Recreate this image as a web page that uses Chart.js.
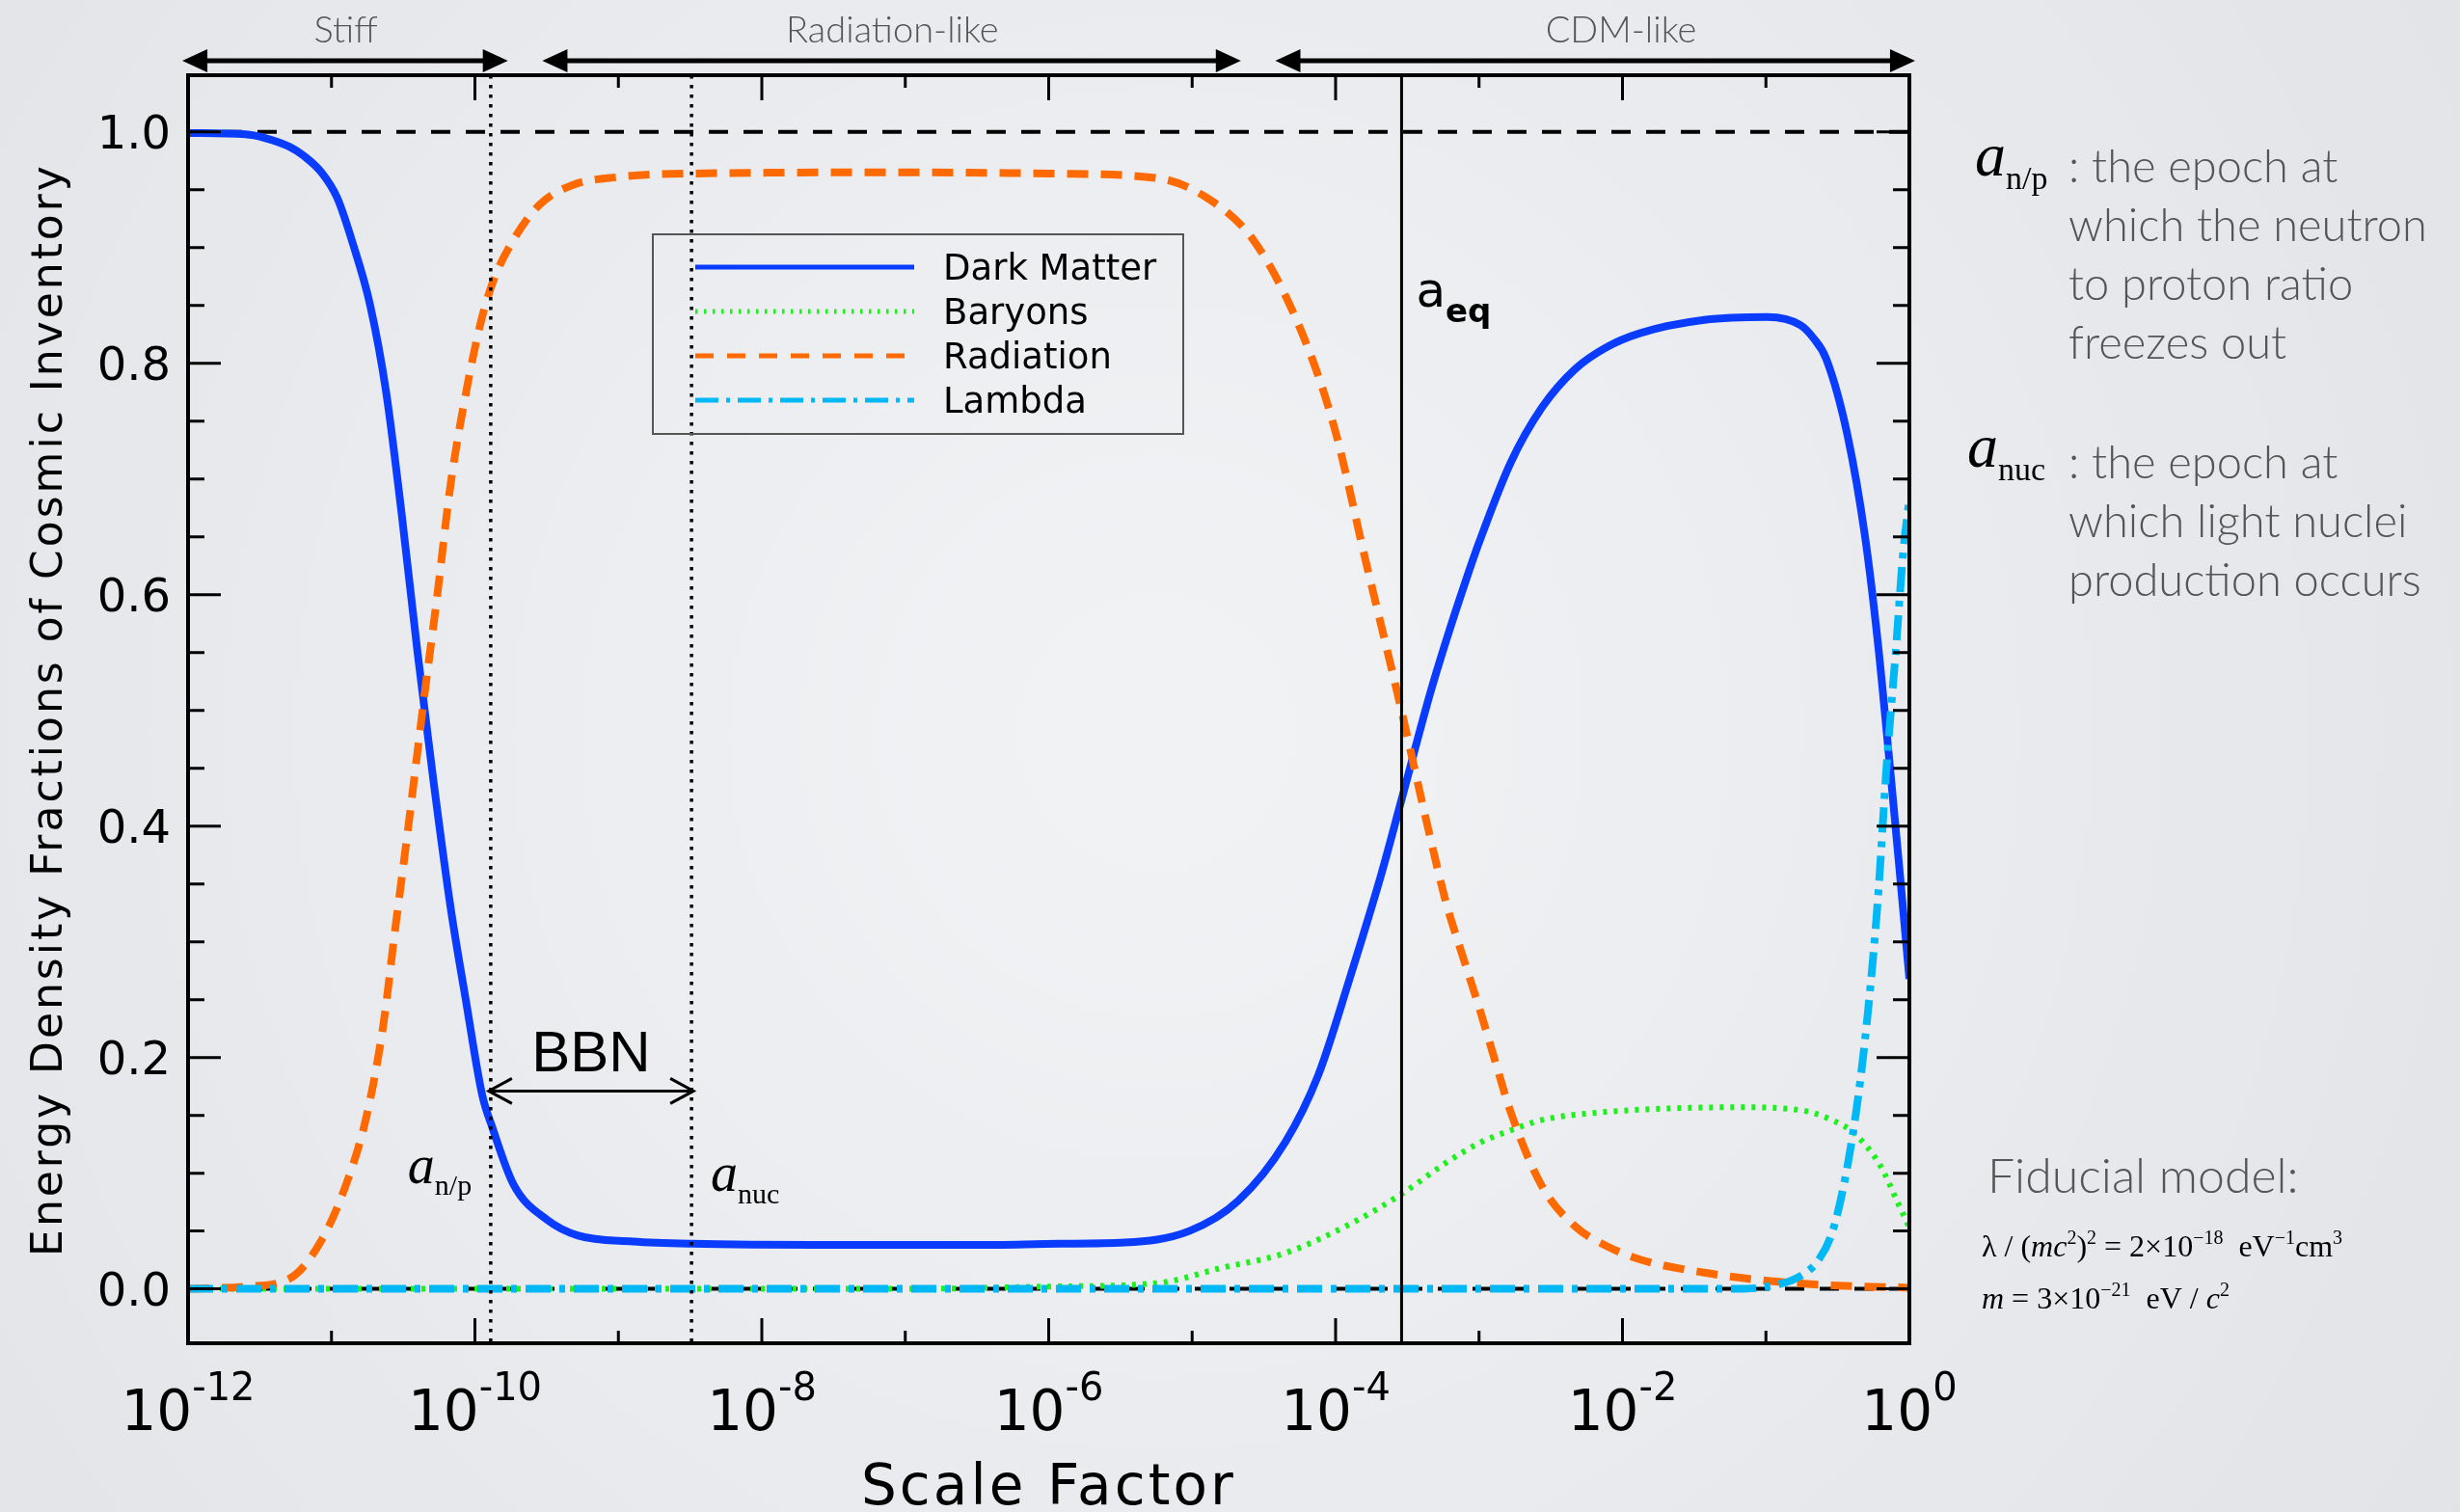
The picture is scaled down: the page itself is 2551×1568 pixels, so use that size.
<!DOCTYPE html>
<html>
<head>
<meta charset="utf-8">
<title>Energy Density Fractions of Cosmic Inventory</title>
<script src="https://cdn.jsdelivr.net/npm/chart.js@4.4.1/dist/chart.umd.min.js"></script>
<style>
  html, body { margin: 0; padding: 0; background: #e9ebee; }
  #wrap { width: 2551px; height: 1568px; }
</style>
</head>
<body>
<div id="wrap"><canvas id="inventory" width="2551" height="1568"></canvas></div>
<script>
// values: log10(scale factor) -> energy density fraction
const dmLogA = [-12.0, -11.6, -11.47, -11.29, -11.19, -11.07, -10.96, -10.85, -10.73, -10.62,
  -10.51, -10.4, -10.34, -10.29, -10.17, -10.06, -9.95, -9.88, -9.73, -9.5, -9.28, -8.9, -8.49,
  -7.5, -6.5, -5.92, -5.47, -5.02, -4.68, -4.35, -4.12, -3.9, -3.68, -3.54, -3.34, -3.23, -3.09,
  -3.0, -2.78, -2.56, -2.33, -2.11, -1.88, -1.43, -0.99, -0.76, -0.67, -0.58, -0.43, -0.31, -0.22,
  -0.13, -0.07, 0.0];
const dmFrac = [0.999, 0.998, 0.995, 0.987, 0.979, 0.965, 0.943, 0.903, 0.85, 0.776,
  0.669, 0.55, 0.49, 0.44, 0.33, 0.247, 0.168, 0.14, 0.09, 0.06, 0.046, 0.041, 0.039,
  0.038, 0.038, 0.039, 0.040, 0.050, 0.076, 0.127, 0.185, 0.269, 0.359, 0.423, 0.515, 0.56, 0.613,
  0.645, 0.714, 0.762, 0.795, 0.814, 0.826, 0.8375, 0.840, 0.833, 0.822, 0.804, 0.737, 0.651, 0.559,
  0.444, 0.364, 0.268];

const barLogA = [-12.0, -7.0, -6.0, -5.24, -4.8, -4.35, -3.9, -3.54, -3.23, -3.0, -2.78,
  -2.56, -2.11, -1.66, -1.21, -0.76, -0.54, -0.38, -0.2, -0.09, 0.0];
const barFrac = [0.0, 0.0, 0.002, 0.005, 0.018, 0.031, 0.056, 0.082, 0.109, 0.126, 0.137,
  0.146, 0.153, 0.156, 0.157, 0.1545, 0.146, 0.134, 0.106, 0.077, 0.053];

const radLogA = [-12.0, -11.6, -11.29, -11.07, -10.89, -10.76, -10.64, -10.56, -10.47, -10.35,
  -10.26, -10.17, -10.06, -9.95, -9.86, -9.73, -9.55, -9.32, -9.0, -8.5, -7.0, -6.0, -5.24,
  -4.91, -4.57, -4.24, -4.01, -3.79, -3.56, -3.34, -3.23, -3.12, -3.0, -2.89, -2.78, -2.56,
  -2.33, -2.11, -1.88, -1.43, -0.99, -0.54, 0.0];
const radFrac = [0.0, 0.002, 0.009, 0.042, 0.093, 0.147, 0.227, 0.307, 0.394, 0.515,
  0.602, 0.695, 0.776, 0.84, 0.875, 0.907, 0.937, 0.954, 0.961, 0.964, 0.965, 0.964, 0.96,
  0.944, 0.906, 0.828, 0.745, 0.629, 0.51, 0.39, 0.334, 0.29, 0.2435, 0.198, 0.153, 0.0885,
  0.054, 0.037, 0.0255, 0.014, 0.007, 0.003, 0.001];

const lamLogA = [-12.0, -1.2, -0.99, -0.76, -0.63, -0.54, -0.45, -0.36, -0.29, -0.22, -0.16,
  -0.09, -0.045, 0.0];
const lamFrac = [0.0, 0.0, 0.002, 0.011, 0.0255, 0.048, 0.094, 0.163, 0.238, 0.336, 0.45,
  0.559, 0.634, 0.683];

// epochs (log10 a) and axis ticks
const epochNP = -9.89, epochNuc = -8.49, epochEq = -3.54;
const xTickExps = [-12, -10, -8, -6, -4, -2, 0];
const yTickVals = [0.0, 0.2, 0.4, 0.6, 0.8, 1.0];
const regimeNames = ['Stiff', 'Radiation-like', 'CDM-like'];
const regimeFrom = [-12.04, -9.53, -4.42];
const regimeTo = [-9.77, -4.66, 0.04];
const regimeLabelAt = [-10.9, -7.09, -2.01];

const W = 2551, H = 1568;
const AREA = { left: 195, top: 78, right: 1980, bottom: 1393 };
const IDL = '"DejaVu Sans", sans-serif';
const GILL = 'Lato, "Open Sans", sans-serif';
const SERIF = '"Liberation Serif", "DejaVu Serif", serif';
const GREY = '#555';

const pts = (la, fr) => la.map((l, i) => ({ x: Math.pow(10, l), y: fr[i] }));

function runs(c, x, y, parts) {
  let cx = x;
  for (const [t, font, dy] of parts) {
    c.font = font;
    c.fillText(t, cx, y + (dy || 0));
    cx += c.measureText(t).width;
  }
  return cx - x;
}
function runsWidth(c, parts) {
  let w = 0;
  for (const [t, font] of parts) { c.font = font; w += c.measureText(t).width; }
  return w;
}
function spaced(c, text, x, y, font, target) {
  c.font = font;
  c.letterSpacing = '0px';
  const w = c.measureText(text).width;
  const sp = target ? (target - w) / (text.length - 1) : 0;
  c.letterSpacing = sp.toFixed(2) + 'px';
  c.fillText(text, x, y);
  c.letterSpacing = '0px';
}

const backdrop = {
  id: 'backdrop',
  beforeDraw(chart) {
    const c = chart.ctx;
    const g = c.createRadialGradient(1200, 760, 100, 1200, 760, 1600);
    g.addColorStop(0, '#f1f2f4');
    g.addColorStop(1, '#e1e3e7');
    c.save();
    c.fillStyle = g;
    c.fillRect(0, 0, W, H);
    c.restore();
  },
  beforeDatasetsDraw(chart) {
    const c = chart.ctx, a = chart.chartArea, ys = chart.scales.y;
    c.save();
    c.strokeStyle = '#000';
    c.lineWidth = 4;
    c.setLineDash([20, 16]);
    for (const v of [0, 1]) {
      const py = ys.getPixelForValue(v);
      c.beginPath(); c.moveTo(a.left, py); c.lineTo(a.right, py); c.stroke();
    }
    c.restore();
  }
};

function filledHead(c, x, y, dir) {
  c.beginPath();
  c.moveTo(x, y);
  c.lineTo(x + dir * 26, y - 12);
  c.lineTo(x + dir * 26, y + 12);
  c.closePath();
  c.fill();
}

const overlay = {
  id: 'overlay',
  afterDatasetsDraw(chart) {
    const c = chart.ctx, a = chart.chartArea;
    const xs = chart.scales.x, ys = chart.scales.y;
    const X = l => xs.getPixelForValue(Math.pow(10, l));
    c.save();

    // epoch lines
    c.strokeStyle = '#000';
    c.lineWidth = 3.5;
    c.setLineDash([3.5, 6.5]);
    for (const l of [epochNP, epochNuc]) {
      c.beginPath(); c.moveTo(X(l), a.top); c.lineTo(X(l), a.bottom); c.stroke();
    }
    c.setLineDash([]);
    c.lineWidth = 3;
    c.beginPath(); c.moveTo(X(epochEq), a.top); c.lineTo(X(epochEq), a.bottom); c.stroke();

    // frame and ticks
    c.lineWidth = 4;
    c.strokeRect(a.left, a.top, a.right - a.left, a.bottom - a.top);
    c.lineWidth = 3;
    c.beginPath();
    for (let e = xTickExps[0] + 1; e < xTickExps[xTickExps.length - 1]; e++) {
      const px = X(e), len = xTickExps.includes(e) ? 26 : 13;
      c.moveTo(px, a.bottom); c.lineTo(px, a.bottom - len);
      c.moveTo(px, a.top); c.lineTo(px, a.top + len);
    }
    for (let i = 0; i <= 20; i++) {
      const v = i * 0.05, py = ys.getPixelForValue(v);
      const len = i % 4 === 0 ? 34 : 17;
      c.moveTo(a.left, py); c.lineTo(a.left + len, py);
      c.moveTo(a.right, py); c.lineTo(a.right - len, py);
    }
    c.stroke();

    // tick labels
    c.fillStyle = '#000';
    c.textBaseline = 'alphabetic';
    c.textAlign = 'right';
    c.font = '48px ' + IDL;
    for (const v of yTickVals) c.fillText(v.toFixed(1), a.left - 18, ys.getPixelForValue(v) + 17);
    c.textAlign = 'left';
    for (const e of xTickExps) {
      const parts = [['10', '58px ' + IDL, 0], [String(e), '40px ' + IDL, -31]];
      const w = runsWidth(c, parts);
      runs(c, X(e) - w / 2, 1483, parts);
    }

    // axis titles
    c.textAlign = 'center';
    spaced(c, 'Scale Factor', (a.left + a.right) / 2, 1560, '58px ' + IDL, 386);
    c.save();
    c.translate(64, 736);
    c.rotate(-Math.PI / 2);
    spaced(c, 'Energy Density Fractions of Cosmic Inventory', 0, 0, '44px ' + IDL, 1131);
    c.restore();

    // regime arrows on top
    c.lineWidth = 5;
    for (let i = 0; i < regimeNames.length; i++) {
      const x1 = X(regimeFrom[i]), x2 = X(regimeTo[i]), y = 63;
      c.beginPath(); c.moveTo(x1 + 20, y); c.lineTo(x2 - 20, y); c.stroke();
      filledHead(c, x1, y, 1);
      filledHead(c, x2, y, -1);
    }
    c.fillStyle = GREY;
    c.font = '300 38px ' + GILL;
    regimeNames.forEach((n, i) => c.fillText(n, X(regimeLabelAt[i]), 44));

    // BBN arrow
    const bx1 = X(epochNP) - 2, bx2 = X(epochNuc) + 2, by = ys.getPixelForValue(0.171);
    c.strokeStyle = '#000';
    c.lineWidth = 3;
    c.beginPath();
    c.moveTo(bx1, by); c.lineTo(bx2, by);
    c.moveTo(bx1 + 24, by - 13); c.lineTo(bx1, by); c.lineTo(bx1 + 24, by + 13);
    c.moveTo(bx2 - 24, by - 13); c.lineTo(bx2, by); c.lineTo(bx2 - 24, by + 13);
    c.stroke();
    c.fillStyle = '#000';
    c.font = '60px "Liberation Sans", Arial, sans-serif';
    c.fillText('BBN', (bx1 + bx2) / 2, ys.getPixelForValue(0.188));

    // epoch labels
    c.textAlign = 'left';
    runs(c, X(epochNP) - 86, ys.getPixelForValue(0.091),
      [['a', 'italic 56px ' + SERIF, 0], ['n/p', '30px ' + SERIF, 12]]);
    runs(c, X(epochNuc) + 20, ys.getPixelForValue(0.085),
      [['a', 'italic 56px ' + SERIF, 0], ['nuc', '30px ' + SERIF, 13]]);
    runs(c, X(epochEq) + 15, 318,
      [['a', '50px ' + IDL, 0], ['eq', 'bold 34px ' + IDL, 16]]);

    // legend
    const lg = { x: 677, y: 243, w: 550, h: 207 };
    c.strokeStyle = '#555';
    c.lineWidth = 2;
    c.strokeRect(lg.x, lg.y, lg.w, lg.h);
    const legendDash = [[], [2.5, 6.5], [19, 14], [24, 8, 4, 8]];
    chart.data.datasets.forEach((ds, i) => {
      const ry = 277 + i * 46;
      c.strokeStyle = ds.borderColor;
      c.lineWidth = 5;
      c.setLineDash(legendDash[i]);
      c.beginPath(); c.moveTo(721, ry); c.lineTo(948, ry); c.stroke();
      c.setLineDash([]);
      c.fillStyle = '#000';
      spaced(c, ds.label, 978, ry + 13, '37px ' + IDL, 0);
    });

    // notes on the right
    c.fillStyle = '#000';
    runs(c, 2048, 182, [['a', 'italic 64px ' + SERIF, 0], ['n/p', '34px ' + SERIF, 14]]);
    runs(c, 2040, 484, [['a', 'italic 64px ' + SERIF, 0], ['nuc', '34px ' + SERIF, 14]]);
    c.fillStyle = GREY;
    c.font = '300 47px ' + GILL;
    [': the epoch at', 'which the neutron', 'to proton ratio', 'freezes out']
      .forEach((t, i) => c.fillText(t, 2145, 189 + i * 61));
    [': the epoch at', 'which light nuclei', 'production occurs']
      .forEach((t, i) => c.fillText(t, 2145, 496 + i * 61));
    c.font = '300 50px ' + GILL;
    c.fillText('Fiducial model:', 2061, 1237);
    c.fillStyle = '#000';
    const f = '32px ' + SERIF, fi = 'italic 32px ' + SERIF, fs = '20px ' + SERIF;
    runs(c, 2055, 1303, [['λ / (', f], ['mc', fi], ['2', fs, -13], [')', f], ['2', fs, -13],
      [' = 2×10', f], ['−18', fs, -13], ['  eV', f], ['−1', fs, -13], ['cm', f], ['3', fs, -13]]);
    runs(c, 2055, 1357, [['m', fi], [' = 3×10', f], ['−21', fs, -13], ['  eV / ', f], ['c', fi], ['2', fs, -13]]);

    c.restore();
  }
};

new Chart(document.getElementById('inventory'), {
  type: 'line',
  data: {
    datasets: [
      { label: 'Dark Matter', data: pts(dmLogA, dmFrac), borderColor: '#0a3cff', borderWidth: 8, order: 3 },
      { label: 'Baryons', data: pts(barLogA, barFrac), borderColor: '#1ef01e', borderWidth: 6,
        borderDash: [4, 7], order: 2 },
      { label: 'Radiation', data: pts(radLogA, radFrac), borderColor: '#ff6a00', borderWidth: 8,
        borderDash: [22, 13], order: 1 },
      { label: 'Lambda', data: pts(lamLogA, lamFrac), borderColor: '#00b8f5', borderWidth: 8,
        borderDash: [26, 9, 6, 9], order: 0 },
    ]
  },
  options: {
    responsive: false,
    animation: false,
    events: [],
    layout: { padding: { left: AREA.left, top: AREA.top, right: W - AREA.right, bottom: H - AREA.bottom } },
    plugins: { legend: { display: false }, tooltip: { enabled: false } },
    elements: {
      point: { radius: 0 },
      line: { cubicInterpolationMode: 'monotone', borderCapStyle: 'butt', fill: false }
    },
    scales: {
      x: { type: 'logarithmic', min: 1e-12, max: 1, display: false },
      y: { type: 'linear', min: -0.047, max: 1.049, display: false }
    }
  },
  plugins: [backdrop, overlay]
});
</script>
</body>
</html>
